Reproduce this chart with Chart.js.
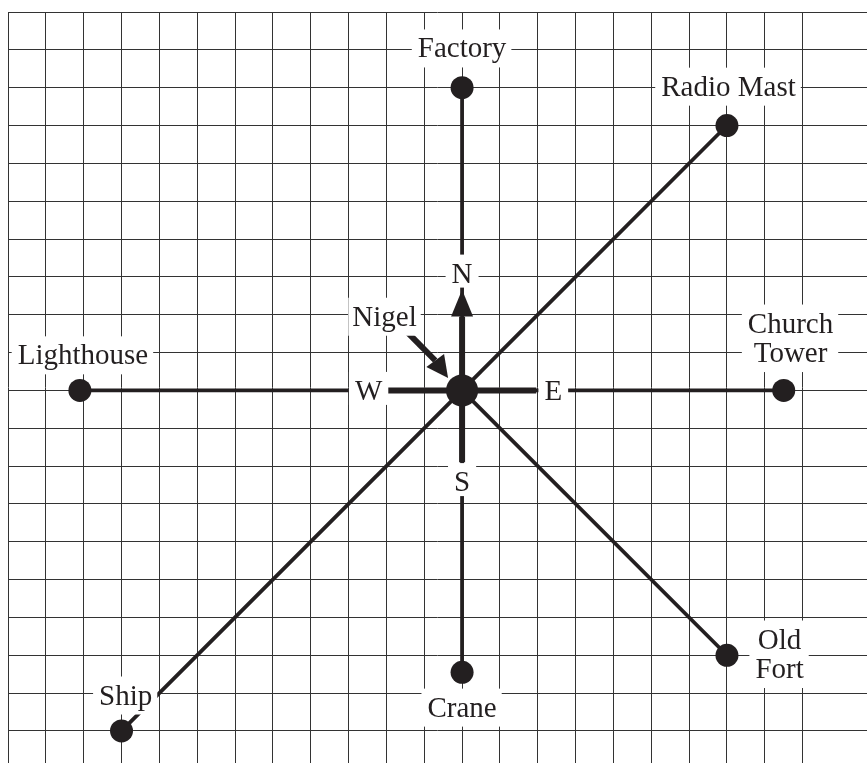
<!DOCTYPE html>
<html><head><meta charset="utf-8">
<script src="https://cdn.jsdelivr.net/npm/chart.js@4.4.0/dist/chart.umd.min.js"></script>
<style>html,body{margin:0;padding:0;background:#fff;overflow:hidden}canvas{display:block}</style>
</head><body>
<canvas id="c" width="867" height="763"></canvas>
<script>
// ---- data (grid units, Nigel at the origin, north = +y) ----
const landmarkNames  = ['Factory', 'Radio Mast', 'Church Tower', 'Old Fort', 'Crane', 'Ship', 'Lighthouse'];
const landmarkX      = [0, 7, 8.5, 7, 0, -9, -10.1];
const landmarkY      = [8, 7, 0, -7, -7.45, -9, 0];
const labelLines     = [['Factory'], ['Radio Mast'], ['Church', 'Tower'], ['Old', 'Fort'], ['Crane'], ['Ship'], ['Lighthouse']];
const labelX         = [0, 7.04, 8.68, 8.39, 0, -8.89, -10.02];
const labelY         = [9.05, 8.04, 1.39, -6.96, -8.37, -8.05, 0.94];

const nigelName      = 'Nigel';
const nigelX         = 0;
const nigelY         = 0;
const nigelLabelX    = -2.05;
const nigelLabelY    = 1.96;

const compassLetters = ['N', 'E', 'S', 'W'];
const compassArmX    = [0, 1.96, 0, -1.96];
const compassArmY    = [1.95, 0, -1.9, 0];
const compassLabelX  = [0, 2.41, 0, -2.47];
const compassLabelY  = [3.10, 0, -2.41, 0];

// arrows: N arrow and the pointer to Nigel
const arrowStartX = [0, -1.43];
const arrowStartY = [0, 1.52];
const arrowBaseX  = [0, -0.71];
const arrowBaseY  = [1.95, 0.79];
const arrowTipX   = [0, -0.37];
const arrowTipY   = [2.66, 0.33];

const gridMinX = -12, gridMaxY = 10;

// ---- styling ----
const ink = '#231f20';
const FONT = '29px "Liberation Serif", "Times New Roman", serif';
const LINE_H = 29.5;
const UNIT = 37.84;
const W = 867, H = 763, PADL = 8, PADT = 12;

const datasets = [];
// Nigel dot (top-most)
datasets.push({ data: [{x: nigelX, y: nigelY}], showLine: false, pointRadius: 16,
  pointBackgroundColor: ink, pointBorderWidth: 0, pointHoverRadius: 16 });
// compass arms
compassArmX.forEach((ax, i) => datasets.push({
  data: [{x: nigelX, y: nigelY}, {x: ax, y: compassArmY[i]}], showLine: true,
  borderColor: ink, borderWidth: 6, borderCapStyle: 'butt', pointRadius: 0
}));
// pointer shaft (N shaft is the N arm)
datasets.push({ data: [{x: arrowStartX[1], y: arrowStartY[1]}, {x: arrowBaseX[1], y: arrowBaseY[1]}],
  showLine: true, borderColor: ink, borderWidth: 6, borderCapStyle: 'butt', pointRadius: 0 });
// landmark lines + dots
landmarkNames.forEach((n, i) => datasets.push({
  label: n,
  data: [{x: nigelX, y: nigelY}, {x: landmarkX[i], y: landmarkY[i]}], showLine: true,
  borderColor: ink, borderWidth: 3.8, borderCapStyle: 'butt',
  pointRadius: [0, 11.5], pointBackgroundColor: ink, pointBorderWidth: 0
}));

function drawLabel(ctx, lines, cx, cy, pl, pr, pt, pb) {
  ctx.font = FONT;
  const capH = ctx.measureText('H').actualBoundingBoxAscent;
  const n = lines.length;
  const maxW = Math.max(...lines.map(t => ctx.measureText(t).width));
  const first = cy - (n - 1) / 2 * LINE_H;
  const top = first - capH / 2 - pt;
  const bottom = first + (n - 1) * LINE_H + capH / 2 + pb;
  ctx.fillStyle = '#fff';
  ctx.fillRect(cx - maxW / 2 - pl, top, maxW + pl + pr, bottom - top);
  ctx.fillStyle = ink;
  ctx.textAlign = 'center';
  ctx.textBaseline = 'alphabetic';
  lines.forEach((t, i) => ctx.fillText(t, cx, first + i * LINE_H + capH / 2));
}

const overlay = {
  id: 'overlay',
  afterDatasetsDraw(chart) {
    const ctx = chart.ctx, xs = chart.scales.x, ys = chart.scales.y;
    ctx.save();
    // arrowheads
    arrowTipX.forEach((tx, i) => {
      const px = xs.getPixelForValue(tx), py = ys.getPixelForValue(arrowTipY[i]);
      const bx = xs.getPixelForValue(arrowBaseX[i]), by = ys.getPixelForValue(arrowBaseY[i]);
      const dx = px - bx, dy = py - by, len = Math.hypot(dx, dy);
      const nx = -dy / len, ny = dx / len, hw = 11;
      ctx.beginPath();
      ctx.moveTo(px, py);
      ctx.lineTo(bx + nx * hw, by + ny * hw);
      ctx.lineTo(bx - nx * hw, by - ny * hw);
      ctx.closePath();
      ctx.fillStyle = ink;
      ctx.fill();
    });
    // landmark labels
    labelLines.forEach((lines, i) => drawLabel(ctx, lines,
      xs.getPixelForValue(labelX[i]), ys.getPixelForValue(labelY[i]), 6, 5, 9, 10));
    // compass letters
    compassLetters.forEach((l, i) => drawLabel(ctx, [l],
      xs.getPixelForValue(compassLabelX[i]), ys.getPixelForValue(compassLabelY[i]), 6, 6, 9, 5));
    // Nigel label
    drawLabel(ctx, [nigelName], xs.getPixelForValue(nigelLabelX), ys.getPixelForValue(nigelLabelY), 4, 4, 9, 10);
    ctx.restore();
  }
};

const xMax = gridMinX + (W - PADL) / UNIT;
const yMin = gridMaxY - (H - PADT) / UNIT;
const gridColor = c => (Math.abs(c.tick.value - Math.round(c.tick.value)) < 1e-6) ? '#333' : 'rgba(0,0,0,0)';

new Chart(document.getElementById('c'), {
  type: 'scatter',
  data: { datasets },
  options: {
    responsive: false,
    animation: false,
    events: [],
    clip: false,
    layout: { autoPadding: false, padding: { left: PADL, top: PADT, right: 0, bottom: 0 } },
    plugins: { legend: { display: false }, tooltip: { enabled: false } },
    scales: {
      x: { type: 'linear', min: gridMinX, max: xMax,
        ticks: { display: false, stepSize: 1, maxTicksLimit: 100 },
        grid: { color: gridColor, lineWidth: 1, drawTicks: false },
        border: { display: false } },
      y: { type: 'linear', min: yMin, max: gridMaxY,
        ticks: { display: false, stepSize: 1, maxTicksLimit: 100 },
        grid: { color: gridColor, lineWidth: 1, drawTicks: false },
        border: { display: false } }
    }
  },
  plugins: [overlay]
});
</script>
</body></html>
